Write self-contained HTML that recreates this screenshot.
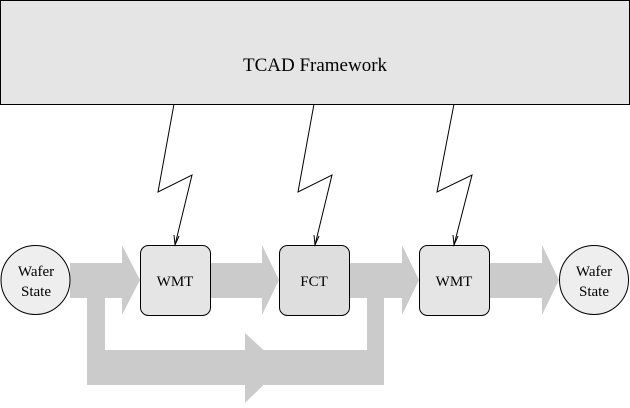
<!DOCTYPE html>
<html><head><style>body{margin:0;background:#fff}</style></head><body>
<svg width="630" height="403" viewBox="0 0 630 403" xmlns="http://www.w3.org/2000/svg">
<rect x="0.5" y="0.5" width="629" height="104" fill="#e5e5e5" stroke="#000"/>
<text x="315" y="71" font-size="19" text-anchor="middle" style="font-family:'Liberation Serif','Times New Roman','DejaVu Serif',serif">TCAD Framework</text>
<g fill="#cbcbcb">
<rect x="70" y="263" width="53" height="35"/><polygon points="122,245 140,280 122,315"/>
<rect x="210" y="263" width="53" height="35"/><polygon points="262,245 279,280 262,315"/>
<rect x="349" y="263" width="54" height="35"/><polygon points="402,245 419,280 402,315"/>
<rect x="489" y="263" width="54" height="35"/><polygon points="542,245 559,280 542,315"/>
<rect x="87" y="297" width="18" height="88"/>
<rect x="367" y="297" width="17" height="88"/>
<rect x="87" y="350" width="297" height="35"/>
<polygon points="245,333 282,367 245,403"/>
</g>
<circle cx="35.5" cy="280" r="34.5" fill="#eeeeee" stroke="#000"/>
<circle cx="594" cy="280" r="34.5" fill="#eeeeee" stroke="#000"/>
<rect x="140.5" y="245.5" width="70" height="70" rx="8" fill="#e5e5e5" stroke="#000"/>
<rect x="279.5" y="245.5" width="70" height="70" rx="8" fill="#dedede" stroke="#000"/>
<rect x="419.5" y="245.5" width="70" height="70" rx="8" fill="#e5e5e5" stroke="#000"/>
<g font-size="15" text-anchor="middle" style="font-family:'Liberation Serif','Times New Roman','DejaVu Serif',serif">
<text x="36" y="276">Wafer</text><text x="36" y="296">State</text>
<text x="594" y="276">Wafer</text><text x="594" y="296">State</text>
<text x="175" y="286">WMT</text><text x="314" y="286">FCT</text><text x="454" y="286">WMT</text>
</g>
<g fill="none" stroke="#000" stroke-width="1">
<polyline points="174,104 158,192 192,175 175,245"/>
<polyline points="314,104 298,192 332,175 315,245"/>
<polyline points="454,104 437,192 472,175 454,245"/>
</g>
<g fill="none" stroke="#000">
<polyline points="174,235 175,245 179,236"/>
<polyline points="314,235 315,245 319,236"/>
<polyline points="453,235 454,245 458,236"/>
</g>
</svg>
</body></html>
